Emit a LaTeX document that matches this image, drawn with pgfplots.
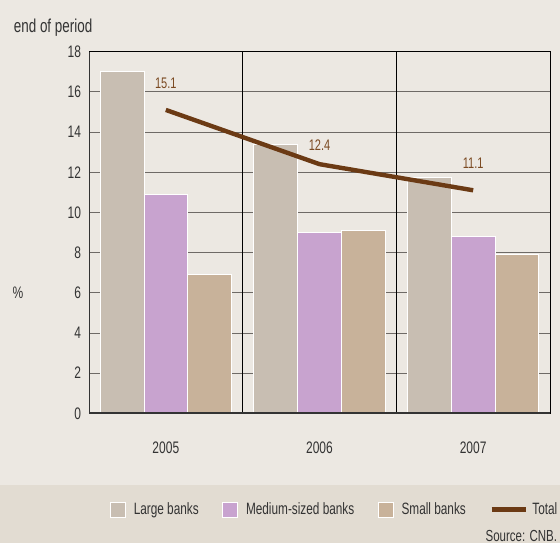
\documentclass[border=0pt]{standalone}
\usepackage{fontspec}
\setmainfont{Liberation Sans}[FakeStretch=0.72]
\usepackage{pgfplots}
\pgfplotsset{compat=1.18}
\definecolor{bgc}{HTML}{ECE8E2}
\definecolor{band}{HTML}{E2DCD2}
\definecolor{large}{HTML}{C8BEB2}
\definecolor{medium}{HTML}{C8A3CF}
\definecolor{small}{HTML}{C8B29A}
\definecolor{total}{HTML}{6B3A14}
\definecolor{lbl}{HTML}{7B4A22}
\definecolor{txt}{HTML}{333333}
\definecolor{gridc}{HTML}{6E6A66}
\begin{document}
\begin{tikzpicture}
\useasboundingbox (0,0) rectangle (420pt,407.25pt);
\fill[bgc] (0,0) rectangle (420pt,407.25pt);
\fill[band] (0,0) rectangle (420pt,43.8pt);
\node[anchor=west, font=\fontsize{14}{16}\selectfont, text=txt, inner sep=0pt] at (10.2pt,386.5pt) {end of period};
\node[font=\fontsize{12.5}{14}\selectfont, text=txt, inner sep=0pt] at (13.5pt,188pt) {\%};
\node[anchor=east, font=\fontsize{12}{14}\selectfont, text=txt, inner sep=0pt] at (418pt,5.25pt) {Source: CNB.};
\begin{axis}[
  at={(66.75pt,97.3pt)}, anchor=south west,
  width=345.75pt, height=271.2pt, scale only axis,
  xmin=0.5, xmax=3.5, ymin=0, ymax=18,
  xtick={1,2,3}, xticklabels={2005,2006,2007},
  ytick={0,2,...,18},
  extra x ticks={1.5,2.5}, extra x tick labels={},
  extra x tick style={grid=major, major grid style={black, line width=0.6pt}},
  ymajorgrids, major grid style={gridc, line width=0.6pt},
  major tick length=0pt,
  axis line style={black, line width=0.7pt},
  /pgf/number format/assume math mode=true,
  tick label style={font=\fontsize{12.5}{14}\selectfont, text=txt},
  yticklabel style={xshift=-2.5pt},
  xticklabel style={yshift=-18pt},
  legend style={at={(rel axis cs:1.031,-0.2664)}, anchor=east, draw=none, fill=none,
    legend columns=4, font=\fontsize{12.3}{14}\selectfont, text=txt,
    /tikz/every even column/.append style={column sep=15.6pt}},
  legend cell align=left,
]
\addplot[ybar, bar width=0.285, bar shift=-0.285, fill=large, draw=white, line width=0.6pt,
  legend image code/.code={\draw[fill=large, draw=white, line width=0.6pt] (0pt,-5.6pt) rectangle (11.25pt,5.6pt); \path (15.25pt,0pt);}]
  coordinates {(1,17.0) (2,13.4) (3,11.75)};
\addlegendentry{Large banks}
\addplot[ybar, bar width=0.285, bar shift=0, fill=medium, draw=white, line width=0.6pt,
  legend image code/.code={\draw[fill=medium, draw=white, line width=0.6pt] (0pt,-5.6pt) rectangle (11.25pt,5.6pt); \path (15.25pt,0pt);}]
  coordinates {(1,10.9) (2,9.0) (3,8.8)};
\addlegendentry{Medium-sized banks}
\addplot[ybar, bar width=0.285, bar shift=0.285, fill=small, draw=white, line width=0.6pt,
  legend image code/.code={\draw[fill=small, draw=white, line width=0.6pt] (0pt,-5.6pt) rectangle (11.25pt,5.6pt); \path (15.25pt,0pt);}]
  coordinates {(1,6.9) (2,9.1) (3,7.9)};
\addlegendentry{Small banks}
\addplot[sharp plot, total, line width=3.3pt, line join=round, no markers,
  legend image code/.code={\draw[total, line width=3.3pt] (0pt,0pt) -- (25.5pt,0pt); \path (27pt,0pt);}]
  coordinates {(1,15.1) (2,12.4) (3,11.1)};
\addlegendentry{Total}
\draw[txt, line width=1.5pt] (rel axis cs:0,0) -- (rel axis cs:0,1);
\draw[txt, line width=1.5pt] (rel axis cs:0,0) -- (rel axis cs:1,0);
\node[text=lbl, font=\fontsize{11.5}{13}\selectfont] at (axis cs:1,16.43) {15.1};
\node[text=lbl, font=\fontsize{11.5}{13}\selectfont] at (axis cs:2,13.36) {12.4};
\node[text=lbl, font=\fontsize{11.5}{13}\selectfont] at (axis cs:3,12.44) {11.1};
\end{axis}
\end{tikzpicture}
\end{document}
